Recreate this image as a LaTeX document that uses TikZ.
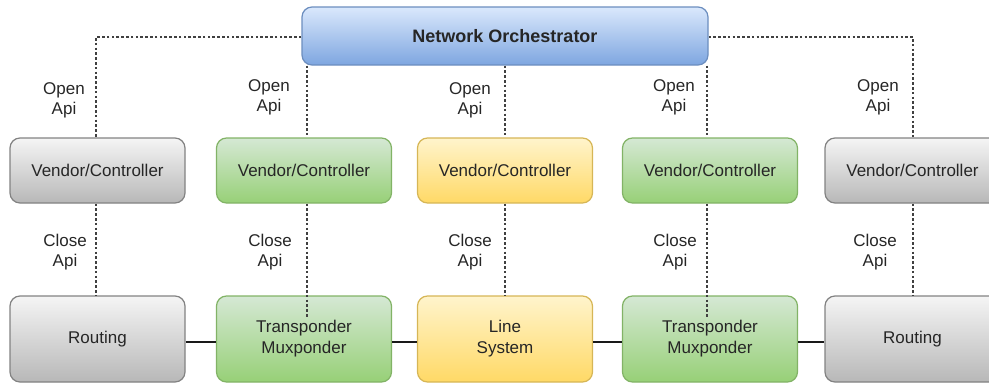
\documentclass[tikz,border=0pt]{standalone}
\usepackage{fontspec}
\setmainfont{Liberation Sans}
\definecolor{greyline}{RGB}{130,130,130}
\definecolor{greentop}{RGB}{213,232,212}
\definecolor{greenbot}{RGB}{151,208,119}
\definecolor{greenline}{RGB}{130,179,102}
\definecolor{yellowtop}{RGB}{255,244,204}
\definecolor{yellowbot}{RGB}{255,217,102}
\definecolor{yellowline}{RGB}{214,182,86}
\definecolor{bluetop}{RGB}{218,232,252}
\definecolor{bluebot}{RGB}{126,166,224}
\definecolor{blueline}{RGB}{108,142,191}
\begin{document}
\begin{tikzpicture}[x=1pt,y=-1pt,
  box/.style={rectangle, rounded corners=10pt, line width=1.2pt, align=center,
    font=\fontsize{17}{21}\selectfont, text=black!85, inner sep=0pt},
  greybox/.style={box, draw=greyline, top color=black!4, bottom color=black!28},
  greenbox/.style={box, draw=greenline, top color=greentop, bottom color=greenbot},
  yellowbox/.style={box, draw=yellowline, top color=yellowtop, bottom color=yellowbot},
  bluebox/.style={box, draw=blueline, top color=bluetop, bottom color=bluebot},
  ctrl/.style={minimum width=175pt, minimum height=65pt},
  dev/.style={minimum width=175pt, minimum height=86pt},
  api/.style={dash pattern=on 2.6pt off 2.2pt, line width=1.4pt, draw=black!75},
  link/.style={line width=2.2pt, draw=black!90},
  lbl/.style={align=center, font=\fontsize{17}{20}\selectfont, text=black!85, inner sep=0pt}
]
\useasboundingbox (0,0) rectangle (989,383);

% orchestrator
\node[bluebox, minimum width=406pt, minimum height=58pt, font=\fontsize{18}{21}\selectfont\bfseries] (orch) at (505,36) {Network Orchestrator};

% controller row
\node[greybox, ctrl]   (c1) at (97.5,170.5)  {Vendor/Controller};
\node[greenbox, ctrl]  (c2) at (304,170.5)   {Vendor/Controller};
\node[yellowbox, ctrl] (c3) at (505,170.5)   {Vendor/Controller};
\node[greenbox, ctrl]  (c4) at (710,170.5)   {Vendor/Controller};
\node[greybox, ctrl]   (c5) at (912.5,170.5) {Vendor/Controller};

% device row
\node[greybox, dev]   (d1) at (97.5,339)  {Routing};
\node[greenbox, dev]  (d2) at (304,339)   {Transponder\\Muxponder};
\node[yellowbox, dev] (d3) at (505,339)   {Line\\System};
\node[greenbox, dev]  (d4) at (710,339)   {Transponder\\Muxponder};
\node[greybox, dev]   (d5) at (912.5,339) {Routing};

% data plane links
\draw[link] (d1.east |- 0,342) -- (d2.west |- 0,342);
\draw[link] (d2.east |- 0,342) -- (d3.west |- 0,342);
\draw[link] (d3.east |- 0,342) -- (d4.west |- 0,342);
\draw[link] (d4.east |- 0,342) -- (d5.west |- 0,342);

% open api (orchestrator to controllers)
\draw[api] (orch.west |- 0,37) -| (c1.north -| 96,0);
\draw[api] (orch.south -| 307,0) -- (c2.north -| 307,0);
\draw[api] (orch.south -| 505,0) -- (c3.north);
\draw[api] (orch.south -| 707,0) -- (c4.north -| 707,0);
\draw[api] (orch.east |- 0,37) -| (c5.north -| 913,0);

% close api (controllers to devices)
\coordinate (t2) at (307,317);
\coordinate (t4) at (707,317);
\draw[api] (c1.south -| 96,0) -- (d1.north -| 96,0);
\draw[api] (c2.south -| 307,0) -- (t2);
\draw[api] (c3.south) -- (d3.north);
\draw[api] (c4.south -| 707,0) -- (t4);
\draw[api] (c5.south -| 913,0) -- (d5.north -| 913,0);

% labels
\node[lbl] (o1) at (64,100)  {Open\\Api};
\node[lbl] (o2) at (269,97)  {Open\\Api};
\node[lbl] (o3) at (470,100) {Open\\Api};
\node[lbl] (o4) at (674,97)  {Open\\Api};
\node[lbl] (o5) at (878,97)  {Open\\Api};

\node[lbl] (k1) at (65,252)  {Close\\Api};
\node[lbl] (k2) at (270,252) {Close\\Api};
\node[lbl] (k3) at (470,252) {Close\\Api};
\node[lbl] (k4) at (675,252) {Close\\Api};
\node[lbl] (k5) at (875,252) {Close\\Api};
\end{tikzpicture}
\end{document}
